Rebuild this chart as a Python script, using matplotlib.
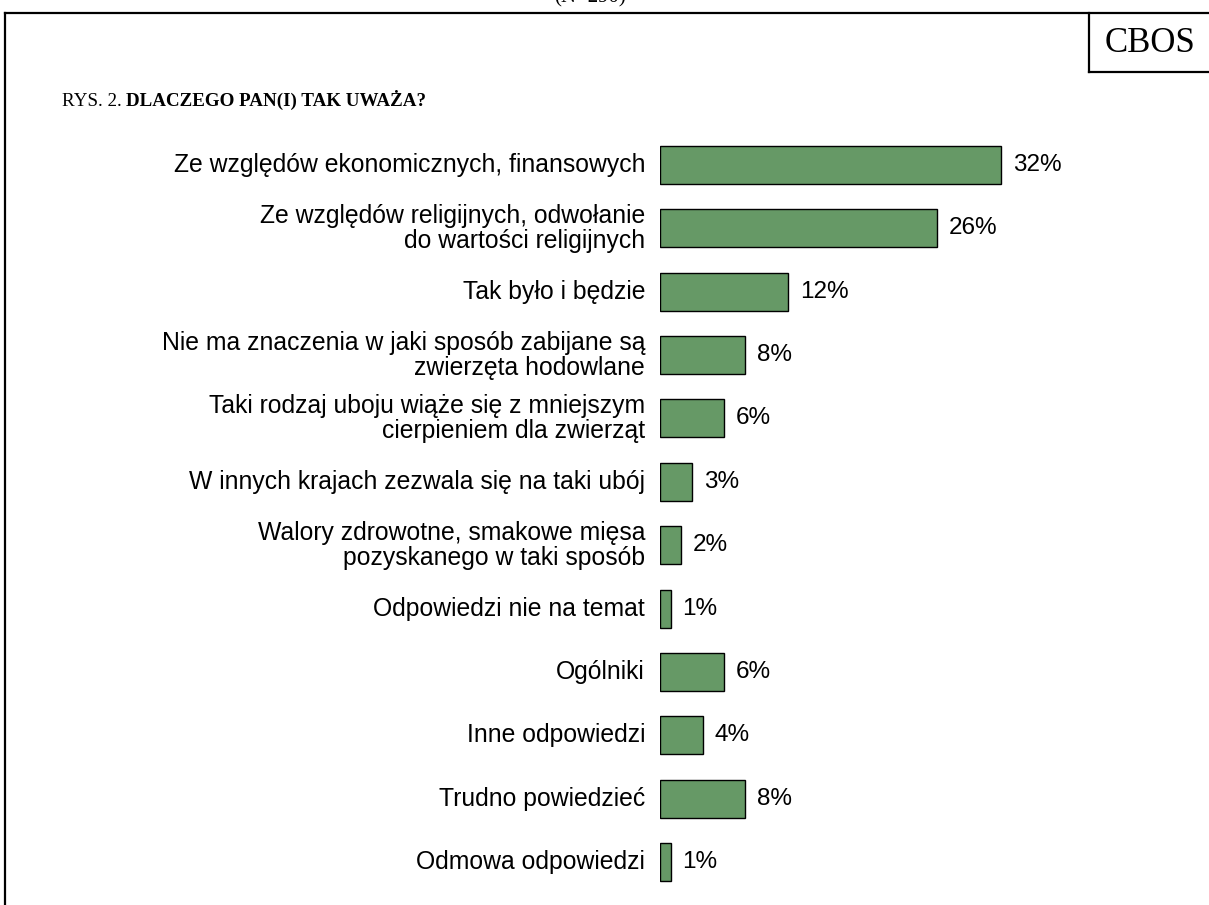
import matplotlib.pyplot as plt
from matplotlib.lines import Line2D

labels = [
    "Ze względów ekonomicznych, finansowych",
    "Ze względów religijnych, odwołanie\ndo wartości religijnych",
    "Tak było i będzie",
    "Nie ma znaczenia w jaki sposób zabijane są\nzwierzęta hodowlane",
    "Taki rodzaj uboju wiąże się z mniejszym\ncierpieniem dla zwierząt",
    "W innych krajach zezwala się na taki ubój",
    "Walory zdrowotne, smakowe mięsa\npozyskanego w taki sposób",
    "Odpowiedzi nie na temat",
    "Ogólniki",
    "Inne odpowiedzi",
    "Trudno powiedzieć",
    "Odmowa odpowiedzi",
]
values = [32, 26, 12, 8, 6, 3, 2, 1, 6, 4, 8, 1]

W, H = 1209, 905
fig = plt.figure(figsize=(W / 100, H / 100), dpi=100)

def fx(px):
    return px / W

def fy(py):
    return 1 - py / H

# bar area: 0% at x=660 px, ~10.66 px per percent
x0, scale = 660, 10.66
y_top, y_bot = 133.3, 893.7
ax = fig.add_axes([fx(x0), fy(y_bot), fx(W - x0), (y_bot - y_top) / H])
pos = list(range(len(values)))
ax.barh(pos, values, height=0.6, color="#669966", edgecolor="black", linewidth=1)
ax.set_xlim(0, (W - x0) / scale)
ax.set_ylim(len(values) - 0.5, -0.5)
ax.axis("off")

for i, v in enumerate(values):
    ax.text(v + 1.1, i, f"{v}%", va="center", ha="left",
            fontsize=17.5, family="Liberation Sans")
    ax.text(-1.4, i, labels[i], va="center", ha="right", multialignment="right",
            fontsize=17.8, family="Liberation Sans", linespacing=1.05)

# frame
lw = 1.6
fig.add_artist(Line2D([fx(5), 1], [fy(13), fy(13)], color="black", lw=lw))
fig.add_artist(Line2D([fx(5), fx(5)], [fy(13), 0], color="black", lw=lw))
fig.add_artist(Line2D([fx(1089), fx(1089)], [fy(13), fy(72)], color="black", lw=lw))
fig.add_artist(Line2D([fx(1089), 1], [fy(72), fy(72)], color="black", lw=lw))
fig.text(fx(1150), fy(43), "CBOS", ha="center", va="center",
         fontsize=25, family="Liberation Serif")
fig.text(fx(590), fy(-2), "(N=290)", ha="center", va="center",
         fontsize=15, family="Liberation Serif")

# title: normal + bold part
t1 = fig.text(fx(62), fy(106), "RYS. 2. ", ha="left", va="baseline",
              fontsize=13.7, family="Liberation Serif")
fig.canvas.draw()
bb = t1.get_window_extent()
fig.text(bb.x1 / W, fy(106), "DLACZEGO PAN(I) TAK UWAŻA?", ha="left", va="baseline",
         fontsize=13.7, family="Liberation Serif", fontweight="bold")

fig.savefig("out.png", dpi=100)
